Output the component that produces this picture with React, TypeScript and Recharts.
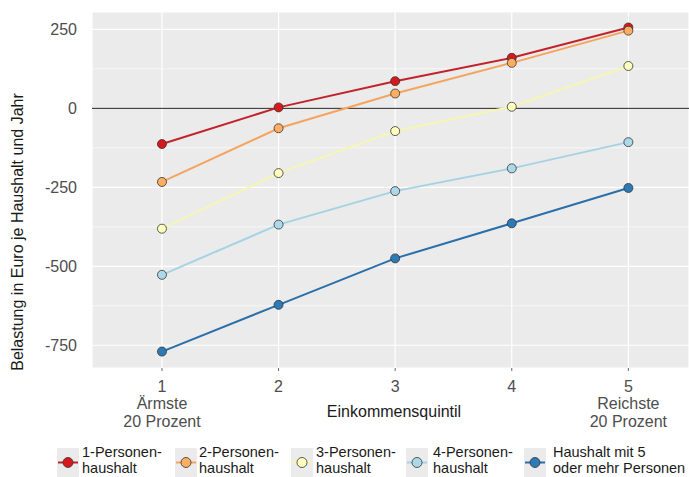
import React from "react";
import {
  LineChart,
  Line,
  XAxis,
  YAxis,
  CartesianGrid,
  ReferenceLine,
} from "recharts";

// ─── Data ────────────────────────────────────────────────────────────────────

const quintiles = [1, 2, 3, 4, 5];

const quintileLabels: string[][] = [
  ["1", "Ärmste", "20 Prozent"],
  ["2"],
  ["3"],
  ["4"],
  ["5", "Reichste", "20 Prozent"],
];

const einPersonen = [-113, 3, 86, 160, 256];
const zweiPersonen = [-233, -63, 47, 144, 246];
const dreiPersonen = [-381, -205, -72, 5, 134];
const vierPersonen = [-527, -368, -262, -190, -107];
const fuenfPersonen = [-770, -622, -475, -364, -252];

const yTicks = [-750, -500, -250, 0, 250];
const yMinorTicks = [-625, -375, -125, 125];

const seriesNames: string[][] = [
  ["1-Personen-", "haushalt"],
  ["2-Personen-", "haushalt"],
  ["3-Personen-", "haushalt"],
  ["4-Personen-", "haushalt"],
  ["Haushalt mit 5", "oder mehr Personen"],
];

// ─── Styling ─────────────────────────────────────────────────────────────────

const FILL_COLORS = ["#d7191c", "#fdae61", "#ffffbf", "#abd9e9", "#2c7bb6"];
const LINE_COLORS = ["#c1232b", "#f4a45e", "#f6f6b4", "#a6d3e3", "#2a6fa9"];
const KEYS = ["s1", "s2", "s3", "s4", "s5"];

const FONT = '"Liberation Sans", Arial, Helvetica, sans-serif';

// legend layout (circle centre x, text start x)
const LEGEND_CIRCLE_X = [68, 186, 302, 417, 535];
const LEGEND_TEXT_X = [82, 199, 316, 433, 553];

const allSeries = [einPersonen, zweiPersonen, dreiPersonen, vierPersonen, fuenfPersonen];

const chartData = quintiles.map((q, i) => {
  const row: Record<string, number> = { q };
  allSeries.forEach((s, k) => {
    row[KEYS[k]] = s[i];
  });
  return row;
});

// ─── Ticks / labels ──────────────────────────────────────────────────────────

function QuintileTick(props: any) {
  const { x, y, payload } = props;
  const lines = quintileLabels[quintiles.indexOf(payload.value)] ?? [String(payload.value)];
  return (
    <text
      x={x}
      y={y}
      textAnchor="middle"
      fill="#4d4d4d"
      fontSize={16}
      fontFamily={FONT}
    >
      {lines.map((l, i) => (
        <tspan key={i} x={x} y={y + 18.5 + i * 17.5}>
          {l}
        </tspan>
      ))}
    </text>
  );
}

function XTitle() {
  return (
    <text
      x={394}
      y={411}
      textAnchor="middle"
      dominantBaseline="central"
      fill="#1a1a1a"
      fontSize={16}
      fontFamily={FONT}
    >
      Einkommensquintil
    </text>
  );
}

function YTitle() {
  return (
    <text
      x={17}
      y={232}
      transform="rotate(-90 17 232)"
      textAnchor="middle"
      dominantBaseline="central"
      fill="#1a1a1a"
      fontSize={16}
      fontFamily={FONT}
    >
      Belastung in Euro je Haushalt und Jahr
    </text>
  );
}

// ─── Legend ──────────────────────────────────────────────────────────────────

function LegendRow() {
  return (
    <>
      {seriesNames.map((name, i) => (
        <React.Fragment key={i}>
          <svg
            width={22}
            height={29}
            style={{ position: "absolute", left: LEGEND_CIRCLE_X[i] - 11, top: 448 }}
          >
            <rect x={0} y={0} width={22} height={29} fill="#ebebeb" />
            <line x1={1} y1={14.5} x2={21} y2={14.5} stroke={LINE_COLORS[i]} strokeWidth={2} />
            <circle cx={11} cy={14.5} r={5} fill={FILL_COLORS[i]} stroke="#333" strokeWidth={0.8} />
          </svg>
          <div
            style={{
              position: "absolute",
              left: LEGEND_TEXT_X[i],
              top: 444,
              fontSize: 14.5,
              lineHeight: "16px",
              color: "#1a1a1a",
              whiteSpace: "nowrap",
            }}
          >
            <div>{name[0]}</div>
            <div>{name[1]}</div>
          </div>
        </React.Fragment>
      ))}
    </>
  );
}

// ─── Chart ───────────────────────────────────────────────────────────────────

export default function App() {
  return (
    <div
      style={{
        position: "absolute",
        left: 0,
        top: 0,
        width: 689,
        height: 477,
        background: "#fff",
        fontFamily: FONT,
        overflow: "hidden",
      }}
    >
      <LineChart
        width={689}
        height={477}
        data={chartData}
        margin={{ top: 12, right: 0, left: 0, bottom: 0 }}
      >
        <CartesianGrid fill="#ebebeb" stroke="#ffffff" strokeWidth={1.2} />
        {yMinorTicks.map((v) => (
          <ReferenceLine key={v} y={v} stroke="#ffffff" strokeWidth={0.6} />
        ))}
        <ReferenceLine y={0} stroke="#222" strokeWidth={1} />
        <XAxis
          type="number"
          dataKey="q"
          domain={[0.4, 5.52]}
          ticks={quintiles}
          interval={0}
          allowDataOverflow
          axisLine={false}
          tickLine={{ stroke: "#666" }}
          tickSize={3}
          height={109}
          tick={<QuintileTick />}
          label={<XTitle />}
        />
        <YAxis
          type="number"
          domain={[-822, 305]}
          ticks={yTicks}
          interval={0}
          allowDataOverflow
          axisLine={false}
          tickLine={false}
          tickSize={4}
          tickMargin={11}
          width={92}
          tick={{ fill: "#4d4d4d", fontSize: 16, fontFamily: FONT }}
          label={<YTitle />}
        />
        {KEYS.map((k, i) => (
          <Line
            key={k}
            type="linear"
            dataKey={k}
            stroke={LINE_COLORS[i]}
            strokeWidth={2}
            dot={{ r: 4.5, fill: FILL_COLORS[i], stroke: "#333", strokeWidth: 0.8 }}
            activeDot={false}
            isAnimationActive={false}
          />
        ))}
      </LineChart>
      <LegendRow />
    </div>
  );
}
